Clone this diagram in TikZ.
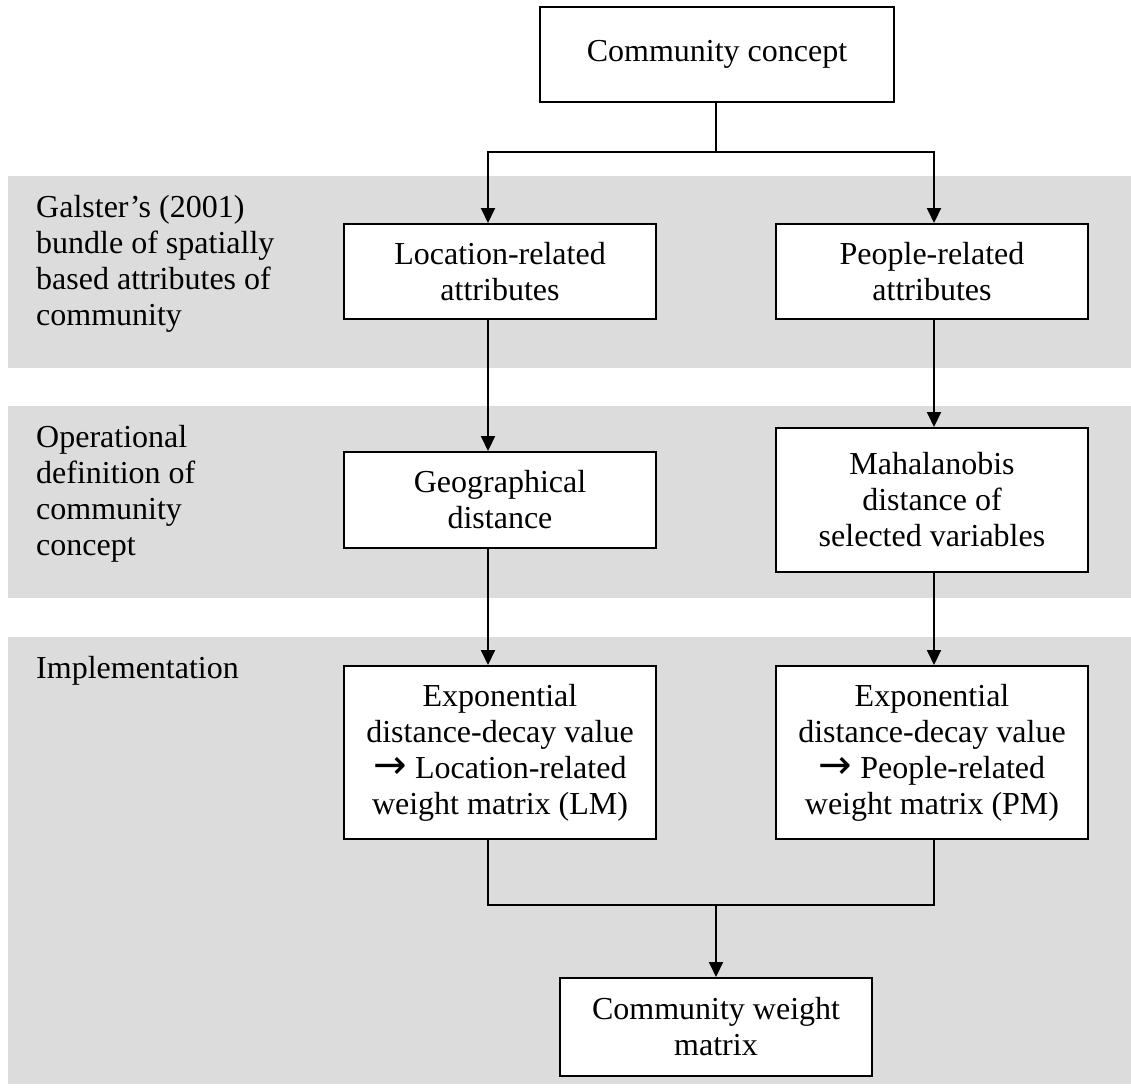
\documentclass[tikz,border=0pt]{standalone}
\usepackage{fontspec}
\setmainfont{Liberation Serif}
\newfontfamily\arrowfont{DejaVu Sans}
\usetikzlibrary{arrows.meta,calc}
\definecolor{bandgray}{RGB}{220,220,220}
\newcommand{\bigarr}{{\arrowfont\fontsize{40}{36}\selectfont →}}
\begin{document}
\begin{tikzpicture}[x=1pt,y=-1pt,
  box/.style={draw, line width=2pt, fill=white, align=center, inner sep=0pt,
    font=\fontsize{32}{36}\selectfont},
  lbl/.style={anchor=north west, align=left, inner sep=0pt,
    font=\fontsize{32}{36}\selectfont},
  conn/.style={line width=2pt},
  arr/.style={conn, -{Triangle[length=15pt,width=14pt]}}]
\useasboundingbox (0,0) rectangle (1131,1089);
% bands
\fill[bandgray] (8,176) rectangle (1131,368);
\fill[bandgray] (8,406) rectangle (1131,598);
\fill[bandgray] (8,637) rectangle (1131,1084);
% left labels
\node[lbl] (l1) at (36,195) {Galster’s (2001)\\bundle of spatially\\based attributes of\\community};
\node[lbl] (l2) at (36,425) {Operational\\definition of\\community\\concept};
\node[lbl] (l3) at (36,656) {Implementation};
% boxes
\node[box, minimum width=354pt, minimum height=95pt] (cc) at (717,54.5) {Community concept};
\node[box, minimum width=312pt, minimum height=95pt] (loc) at (500,271.5) {Location-related\\attributes};
\node[box, minimum width=312pt, minimum height=95pt] (peo) at (932,271.5) {People-related\\attributes};
\node[box, minimum width=312pt, minimum height=96pt] (geo) at (500,500) {Geographical\\distance};
\node[box, minimum width=312pt, minimum height=144pt] (mah) at (932,500) {Mahalanobis\\distance of\\selected variables};
\node[box, minimum width=312pt, minimum height=173pt] (lm) at (500,752.5) {Exponential\\distance-decay value\\\bigarr{} Location-related\\weight matrix (LM)};
\node[box, minimum width=312pt, minimum height=173pt] (pm) at (932,752.5) {Exponential\\distance-decay value\\\bigarr{} People-related\\weight matrix (PM)};
\node[box, minimum width=312pt, minimum height=98pt] (cwm) at (716,1027) {Community weight\\matrix};
% connectors
\coordinate (colL) at (488,0);
\coordinate (colR) at (934,0);
\coordinate (split) at (716,152);
\coordinate (merge) at (716,905);
\draw[conn] (cc.south -| split) -- (split);
\draw[arr] (split) -| (loc.north -| colL);
\draw[arr] (split) -| (peo.north -| colR);
\draw[arr] (loc.south -| colL) -- (geo.north -| colL);
\draw[arr] (peo.south -| colR) -- (mah.north -| colR);
\draw[arr] (geo.south -| colL) -- (lm.north -| colL);
\draw[arr] (mah.south -| colR) -- (pm.north -| colR);
\draw[conn] (lm.south -| colL) |- (merge) -| (pm.south -| colR);
\draw[arr] (merge) -- (cwm.north);
\end{tikzpicture}
\end{document}
